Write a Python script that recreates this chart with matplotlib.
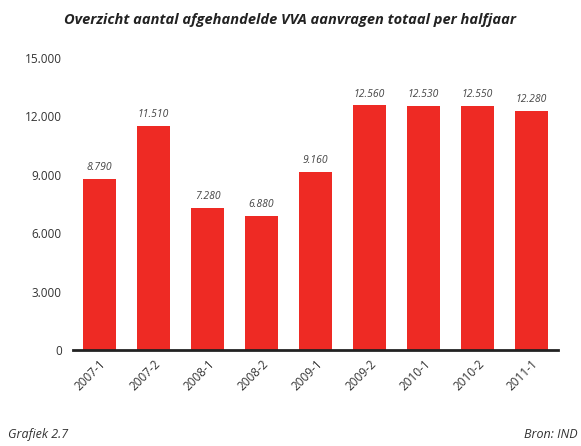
import matplotlib
matplotlib.use("Agg")
from matplotlib import pyplot as plt

periods = ["2007-1", "2007-2", "2008-1", "2008-2", "2009-1",
           "2009-2", "2010-1", "2010-2", "2011-1"]
values = [8790, 11510, 7280, 6880, 9160, 12560, 12530, 12550, 12280]
value_labels = ["8.790", "11.510", "7.280", "6.880", "9.160",
                "12.560", "12.530", "12.550", "12.280"]
yticks = [0, 3000, 6000, 9000, 12000, 15000]
ytick_labels = ["0", "3.000", "6.000", "9.000", "12.000", "15.000"]

plt.rcParams['font.family'] = ['Open Sans', 'DejaVu Sans']

fig = plt.figure(figsize=(5.81, 4.46), dpi=100)
ax = fig.add_axes([0.1256, 0.215, 0.835, 0.655])

x = range(len(values))
ax.bar(x, values, width=0.61, color="#ee2a24", zorder=2)
for i, v in enumerate(values):
    ax.text(i, v + 300, value_labels[i], ha="center", va="bottom",
            fontsize=7.5, style="italic", color="#444444")

ax.set_xlim(-0.49, 8.49)
ax.set_ylim(0, 15000)
ax.set_yticks(yticks)
ax.set_yticklabels(ytick_labels, fontsize=8.5, color="#333333")
ax.set_xticks(list(x))
ax.set_xticklabels(periods, rotation=45, ha="right", rotation_mode="anchor",
                   fontsize=8.5, color="#333333")
ax.tick_params(axis="y", length=0, pad=8)
ax.tick_params(axis="x", length=0, pad=5)
for s in ["top", "right", "left"]:
    ax.spines[s].set_visible(False)
ax.spines["bottom"].set_linewidth(2)
ax.spines["bottom"].set_color("#222222")

fig.text(0.5, 0.955, "Overzicht aantal afgehandelde VVA aanvragen totaal per halfjaar",
         ha="center", va="center", fontsize=10.5, fontweight="bold",
         style="italic", color="#222222")
fig.text(0.014, 0.025, "Grafiek 2.7", ha="left", va="center",
         fontsize=9, style="italic", color="#333333")
fig.text(0.995, 0.025, "Bron: IND", ha="right", va="center",
         fontsize=9, style="italic", color="#333333")

fig.savefig("out.png", dpi=100)
